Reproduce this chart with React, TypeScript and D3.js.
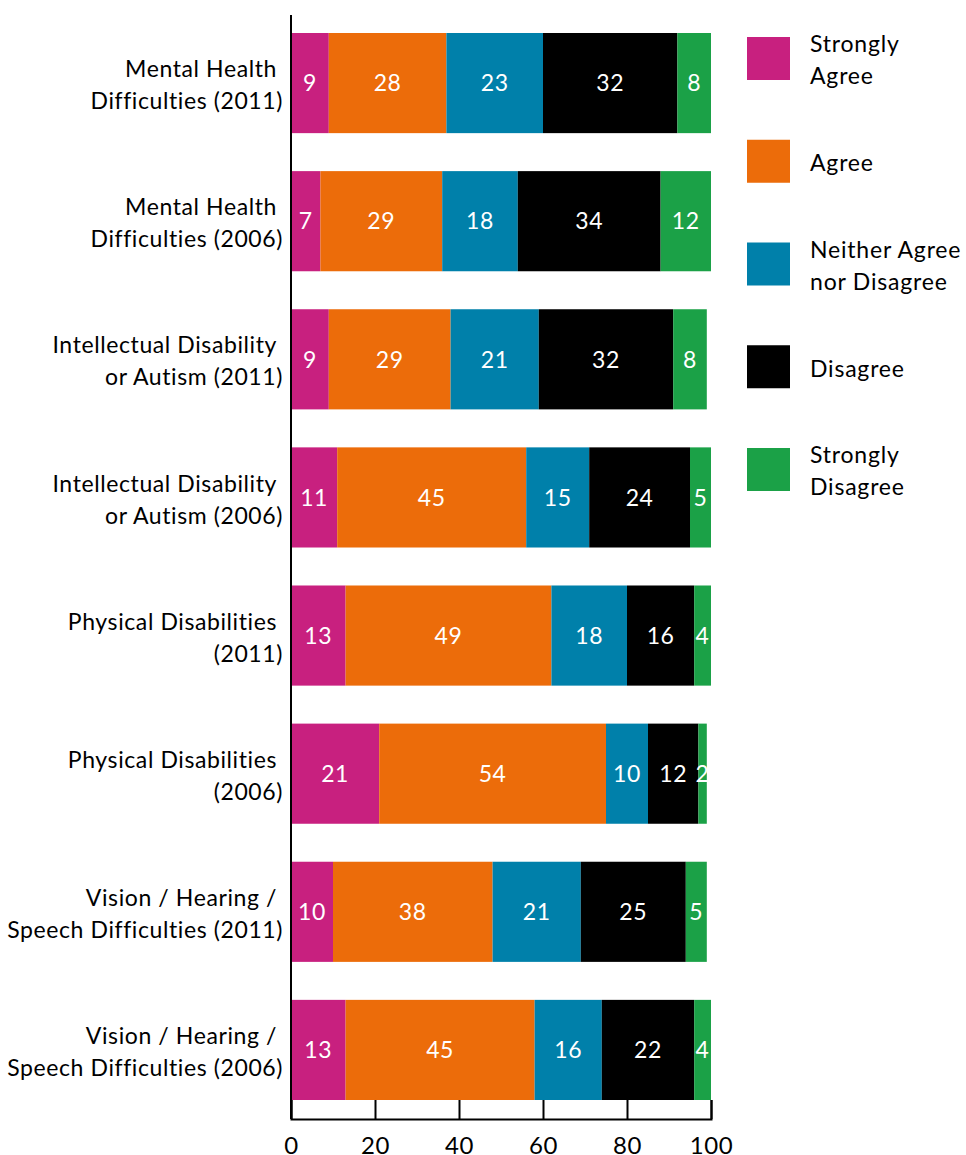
import React, { useRef, useEffect } from "react";
import * as d3 from "d3";

// categories, two lines each
const categories = [
  ["Mental Health", "Difficulties (2011)"],
  ["Mental Health", "Difficulties (2006)"],
  ["Intellectual Disability", "or Autism (2011)"],
  ["Intellectual Disability", "or Autism (2006)"],
  ["Physical Disabilities", "(2011)"],
  ["Physical Disabilities", "(2006)"],
  ["Vision / Hearing /", "Speech Difficulties (2011)"],
  ["Vision / Hearing /", "Speech Difficulties (2006)"],
];

const seriesNames = [
  ["Strongly", "Agree"],
  ["Agree"],
  ["Neither Agree", "nor Disagree"],
  ["Disagree"],
  ["Strongly", "Disagree"],
];
const seriesColors = ["#c8207f", "#ec6c0a", "#0080aa", "#000000", "#1ba147"];

const stronglyAgree = [9, 7, 9, 11, 13, 21, 10, 13];
const agree = [28, 29, 29, 45, 49, 54, 38, 45];
const neither = [23, 18, 21, 15, 18, 10, 21, 16];
const disagree = [32, 34, 32, 24, 16, 12, 25, 22];
const stronglyDisagree = [8, 12, 8, 5, 4, 2, 5, 4];

const xTicks = [0, 20, 40, 60, 80, 100];

const FONT = "Lato, 'DejaVu Sans', sans-serif";

const App = () => {
  const svgRef = useRef<SVGSVGElement>(null);
  const width = 966;
  const height = 1155;

  useEffect(() => {
    const values = [stronglyAgree, agree, neither, disagree, stronglyDisagree];
    const rows = categories.map((c, i) => {
      const row: any = { i };
      values.forEach((v, k) => (row["s" + k] = v[i]));
      return row;
    });
    const keys = values.map((_, k) => "s" + k);
    const stacked = d3.stack().keys(keys)(rows);

    const x = d3.scaleLinear().domain([0, 100]).range([291, 711]);
    const y = d3
      .scaleBand<number>()
      .domain(d3.range(categories.length))
      .range([33, 1100])
      .paddingInner(0.275)
      .paddingOuter(0);

    const svg = d3.select(svgRef.current);
    svg.selectAll("*").remove();

    // bars
    const layers = svg
      .selectAll(".layer")
      .data(stacked)
      .enter()
      .append("g")
      .attr("fill", (d, k) => seriesColors[k]);

    layers
      .selectAll("rect")
      .data((d) => d)
      .enter()
      .append("rect")
      .attr("x", (d) => x(d[0]))
      .attr("width", (d) => x(d[1]) - x(d[0]))
      .attr("y", (d: any) => y(d.data.i)!)
      .attr("height", y.bandwidth());

    layers
      .selectAll("text")
      .data((d) => d)
      .enter()
      .append("text")
      .attr("x", (d) => (x(d[0]) + x(d[1])) / 2)
      .attr("y", (d: any) => y(d.data.i)! + y.bandwidth() / 2)
      .attr("dy", "0.36em")
      .attr("text-anchor", "middle")
      .attr("fill", "white")
      .attr("font-family", FONT)
      .attr("font-size", 23)
      .attr("letter-spacing", 0.6)
      .text((d) => d[1] - d[0]);

    // category labels
    const labels = svg
      .append("g")
      .attr("font-family", FONT)
      .attr("font-size", 23)
      .attr("letter-spacing", 0.6)
      .attr("text-anchor", "end")
      .selectAll("text")
      .data(categories)
      .enter()
      .append("text")
      .attr("y", (d, i) => y(i)! + y.bandwidth() / 2 + 2);
    labels
      .append("tspan")
      .attr("x", 277)
      .attr("dy", "-0.34em")
      .text((d) => d[0]);
    labels
      .append("tspan")
      .attr("x", 283)
      .attr("dy", "1.39em")
      .text((d) => d[1]);

    // y axis line
    svg
      .append("line")
      .attr("x1", 291)
      .attr("x2", 291)
      .attr("y1", 15)
      .attr("y2", 1119)
      .attr("stroke", "black")
      .attr("stroke-width", 2);

    // x axis
    const xAxis = d3.axisBottom(x).tickValues(xTicks).tickSize(-19).tickFormat((v) => `${v}`);
    const xg = svg.append("g").attr("transform", "translate(0,1119)").call(xAxis);
    xg.select(".domain").attr("stroke-width", 2);
    xg.selectAll(".tick line").attr("stroke-width", 2);
    xg.selectAll(".tick text")
      .attr("y", 35)
      .attr("dy", "0")
      .attr("font-family", FONT)
      .attr("font-size", 24)
      .attr("letter-spacing", 0.6)
      .attr("fill", "black");

    // legend
    const legendY = d3.scalePoint<number>().domain(d3.range(seriesNames.length)).range([37, 448]);
    const lg = svg
      .append("g")
      .selectAll("g")
      .data(seriesNames)
      .enter()
      .append("g")
      .attr("transform", (d, k) => `translate(747,${legendY(k)})`);
    lg.append("rect")
      .attr("width", 43)
      .attr("height", 43)
      .attr("fill", (d, k) => seriesColors[k]);
    const lt = lg
      .append("text")
      .attr("font-family", FONT)
      .attr("font-size", 23)
      .attr("letter-spacing", 0.8)
      .attr("y", (d) => (d.length === 1 ? 23.5 : 7.5));
    lt.selectAll("tspan")
      .data((d) => d)
      .enter()
      .append("tspan")
      .attr("x", 63)
      .attr("dy", (d, j) => (j === 0 ? "0.34em" : "1.39em"))
      .text((d) => d);
  }, []);

  return (
    <svg
      ref={svgRef}
      width={width}
      height={height}
      style={{ display: "block", position: "absolute", left: 0, top: 0 }}
    />
  );
};

export default App;
